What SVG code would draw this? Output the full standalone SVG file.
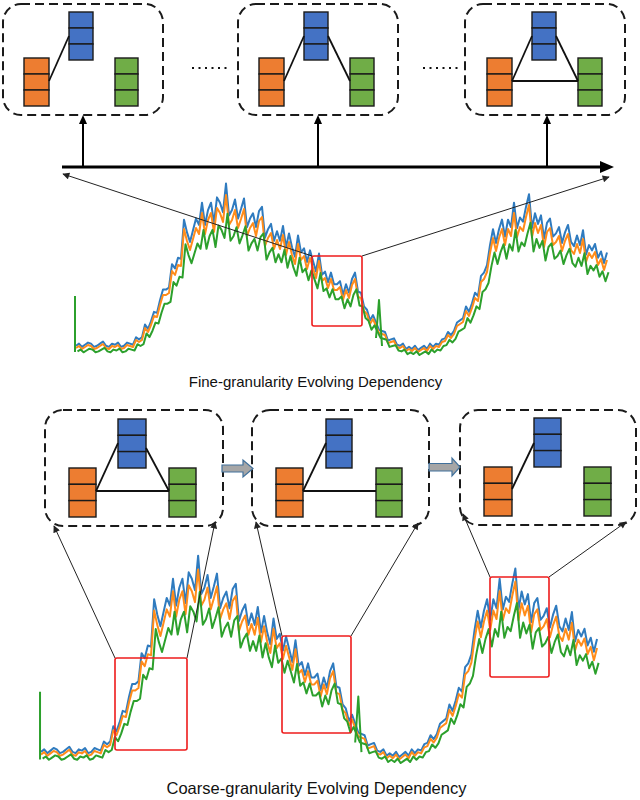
<svg xmlns="http://www.w3.org/2000/svg" width="640" height="800" viewBox="0 0 640 800">
<style>
.dbox{fill:none;stroke:#1a1a1a;stroke-width:2;stroke-dasharray:9 5}
.b{fill:#4472C4;stroke:#1a1a1a;stroke-width:1.4}
.o{fill:#ED7D31;stroke:#1a1a1a;stroke-width:1.4}
.g{fill:#70AD47;stroke:#1a1a1a;stroke-width:1.4}
.edge{stroke:#111;stroke-width:1.8;fill:none}
.thin{stroke:#222;stroke-width:1;fill:none;marker-end:url(#ah)}
.red{fill:none;stroke:#ee1c1c;stroke-width:1.6}
.lbl{font-family:"Liberation Sans",Arial,sans-serif;fill:#111;text-anchor:middle}
.s{fill:none;stroke-width:2;stroke-linejoin:round}
.sb{stroke:#2f7bbf}
.so{stroke:#ff8c1a}
.sg{stroke:#2ca02c}
.blk{fill:#a6a6a6;stroke:#41719C;stroke-width:1.2}
.thick{stroke:#000;fill:none}
</style>
<defs>
<marker id="ah" viewBox="0 0 10 10" refX="9" refY="5" markerWidth="9" markerHeight="7" markerUnits="userSpaceOnUse" orient="auto"><path d="M0,0 L10,5 L0,10 z" fill="#222"/></marker>
<polyline id="ts" vector-effect="non-scaling-stroke" points="76,348 79,346 82,349 85,347 88,345 91,346 94,349 97,348 100,346 103,344 106,348 109,349 112,346 115,347 118,345 121,349 124,348 127,345 130,346 133,347 136,340 139,342 142,340 145,328 148,332 151,325 154,316 157,317 160,305 163,295 166,295 169,293 172,271 175,275 178,265 181,266 184,229 187,241 190,250 193,239 196,228 199,234 202,213 205,234 208,220 211,213 214,232 217,208 220,213 223,222 226,195 229,225 232,220 235,210 238,228 241,219 244,209 247,236 250,228 253,223 256,236 259,221 262,217 265,246 268,238 271,233 274,249 277,240 280,249 283,235 286,255 289,242 292,255 295,264 298,244 301,260 304,256 307,269 310,258 313,268 316,278 319,261 322,281 325,278 328,288 331,279 334,290 337,290 340,287 343,300 346,290 349,298 352,285 355,279 358,297 361,298 364,311 367,314 370,324 373,319 376,326 379,333 382,334 385,335 388,343 391,342 394,341 397,347 400,348 403,346 406,351 409,349 412,351 415,348 418,352 421,350 424,348 427,351 430,346 433,349 436,346 439,347 442,342 445,341 448,335 451,338 454,334 457,326 460,324 463,322 466,311 469,316 472,308 475,298 478,301 481,282 484,279 487,272 490,253 493,238 496,251 499,238 502,229 505,245 508,229 511,236 514,213 517,237 520,227 523,231 526,217 529,205 532,237 535,223 538,233 541,225 544,247 547,232 550,228 553,245 556,242 559,236 562,251 565,241 568,234 571,250 574,254 577,244 580,253 583,239 586,262 589,253 592,258 595,252 598,265 601,259 604,270 607,260"/>
<path id="gsp" vector-effect="non-scaling-stroke" d="M75,296 L75,352 M376,338 L379,300 L382,346"/>
</defs>

<g id="chart-top">
<use href="#ts" class="s sb" transform="translate(0,-23.1) scale(1,1.06)"/>
<use href="#ts" class="s so"/>
<use href="#ts" class="s sg" transform="translate(1.5,38.2) scale(1,0.9)"/>
<use href="#gsp" class="s sg"/>
<rect class="red" x="312" y="256" width="50" height="70" rx="2"/>
</g>

<g id="chart-bottom">
<g transform="translate(-38.5,333.5) scale(1.047,1.21)">
<use href="#ts" class="s sb" transform="translate(0,-23.1) scale(1,1.06)"/>
<use href="#ts" class="s so"/>
<use href="#ts" class="s sg" transform="translate(1.5,38.2) scale(1,0.9)"/>
<use href="#gsp" class="s sg"/>
</g>
<rect class="red" x="115" y="658" width="72" height="92" rx="2"/>
<rect class="red" x="282" y="636" width="69" height="97" rx="2"/>
<rect class="red" x="490" y="577" width="59" height="100" rx="2"/>
</g>

<g id="frame-top-1">
<rect class="dbox" x="3" y="4" width="160" height="111" rx="18"/>
<g id="t1-blue"><rect class="b" x="69" y="12" width="24" height="16"/><rect class="b" x="69" y="28" width="24" height="16"/><rect class="b" x="69" y="44" width="24" height="16"/></g>
<g id="t1-orange"><rect class="o" x="24" y="58" width="25" height="16"/><rect class="o" x="24" y="74" width="25" height="16"/><rect class="o" x="24" y="90" width="25" height="16"/></g>
<g id="t1-green"><rect class="g" x="115" y="58" width="23" height="16"/><rect class="g" x="115" y="74" width="23" height="16"/><rect class="g" x="115" y="90" width="23" height="16"/></g>
</g>
<g id="frame-top-2">
<rect class="dbox" x="238" y="4" width="160" height="111" rx="18"/>
<g id="t2-blue"><rect class="b" x="304" y="12" width="24" height="16"/><rect class="b" x="304" y="28" width="24" height="16"/><rect class="b" x="304" y="44" width="24" height="16"/></g>
<g id="t2-orange"><rect class="o" x="259" y="58" width="25" height="16"/><rect class="o" x="259" y="74" width="25" height="16"/><rect class="o" x="259" y="90" width="25" height="16"/></g>
<g id="t2-green"><rect class="g" x="350" y="58" width="24" height="16"/><rect class="g" x="350" y="74" width="24" height="16"/><rect class="g" x="350" y="90" width="24" height="16"/></g>
</g>
<g id="frame-top-3">
<rect class="dbox" x="465" y="4" width="160" height="111" rx="18"/>
<g id="t3-blue"><rect class="b" x="532" y="12" width="24" height="16"/><rect class="b" x="532" y="28" width="24" height="16"/><rect class="b" x="532" y="44" width="24" height="16"/></g>
<g id="t3-orange"><rect class="o" x="487" y="58" width="25" height="16"/><rect class="o" x="487" y="74" width="25" height="16"/><rect class="o" x="487" y="90" width="25" height="16"/></g>
<g id="t3-green"><rect class="g" x="578" y="58" width="24" height="16"/><rect class="g" x="578" y="74" width="24" height="16"/><rect class="g" x="578" y="90" width="24" height="16"/></g>
</g>

<g id="frame-bot-A">
<rect class="dbox" x="45" y="410" width="178" height="116" rx="18"/>
<g id="bA-blue"><rect class="b" x="118" y="419" width="28" height="16.3"/><rect class="b" x="118" y="435.3" width="28" height="16.3"/><rect class="b" x="118" y="451.6" width="28" height="16.4"/></g>
<g id="bA-orange"><rect class="o" x="69" y="468" width="27" height="16.3"/><rect class="o" x="69" y="484.3" width="27" height="16.3"/><rect class="o" x="69" y="500.6" width="27" height="16.4"/></g>
<g id="bA-green"><rect class="g" x="169" y="468" width="27" height="16.3"/><rect class="g" x="169" y="484.3" width="27" height="16.3"/><rect class="g" x="169" y="500.6" width="27" height="16.4"/></g>
</g>
<g id="frame-bot-B">
<rect class="dbox" x="252" y="410" width="177" height="116" rx="18"/>
<g id="bB-blue"><rect class="b" x="326" y="419" width="26" height="16.3"/><rect class="b" x="326" y="435.3" width="26" height="16.3"/><rect class="b" x="326" y="451.6" width="26" height="16.4"/></g>
<g id="bB-orange"><rect class="o" x="276" y="468" width="27" height="16.3"/><rect class="o" x="276" y="484.3" width="27" height="16.3"/><rect class="o" x="276" y="500.6" width="27" height="16.4"/></g>
<g id="bB-green"><rect class="g" x="376" y="468" width="26" height="16.3"/><rect class="g" x="376" y="484.3" width="26" height="16.3"/><rect class="g" x="376" y="500.6" width="26" height="16.4"/></g>
</g>
<g id="frame-bot-C">
<rect class="dbox" x="460" y="410" width="176" height="115" rx="18"/>
<g id="bC-blue"><rect class="b" x="534" y="418" width="27" height="16.3"/><rect class="b" x="534" y="434.3" width="27" height="16.3"/><rect class="b" x="534" y="450.6" width="27" height="16.4"/></g>
<g id="bC-orange"><rect class="o" x="484" y="467" width="28" height="16.3"/><rect class="o" x="484" y="483.3" width="28" height="16.3"/><rect class="o" x="484" y="499.6" width="28" height="16.4"/></g>
<g id="bC-green"><rect class="g" x="584" y="467" width="27" height="16.3"/><rect class="g" x="584" y="483.3" width="27" height="16.3"/><rect class="g" x="584" y="499.6" width="27" height="16.4"/></g>
</g>

<g id="connectors">
<line class="edge" x1="49" y1="81" x2="69" y2="36"/>
<line class="edge" x1="284" y1="81" x2="304" y2="36"/>
<line class="edge" x1="328" y1="36" x2="350" y2="81"/>
<line class="edge" x1="512" y1="81" x2="532" y2="36"/>
<line class="edge" x1="556" y1="36" x2="578" y2="81"/>
<line class="edge" x1="512" y1="81" x2="578" y2="81"/>
<line class="edge" x1="96" y1="491" x2="118" y2="443"/>
<line class="edge" x1="146" y1="448" x2="169" y2="491"/>
<line class="edge" x1="96" y1="491" x2="169" y2="491"/>
<line class="edge" x1="303" y1="491" x2="326" y2="443"/>
<line class="edge" x1="303" y1="491" x2="376" y2="491"/>
<line class="edge" x1="512" y1="489" x2="534" y2="443"/>
<line x1="192" y1="68" x2="230" y2="68" stroke="#111" stroke-width="2" stroke-dasharray="2 4.5"/>
<line x1="423" y1="68" x2="461" y2="68" stroke="#111" stroke-width="2" stroke-dasharray="2 4.5"/>
<line class="thick" x1="62" y1="167" x2="602" y2="167" stroke-width="3.2"/>
<polygon points="600,161 614,167 600,173" fill="#000"/>
<line class="thick" x1="83" y1="167" x2="83" y2="123" stroke-width="2"/>
<polygon points="79,124 83,115 87,124" fill="#000"/>
<line class="thick" x1="318" y1="167" x2="318" y2="123" stroke-width="2"/>
<polygon points="314,124 318,115 322,124" fill="#000"/>
<line class="thick" x1="547" y1="167" x2="547" y2="123" stroke-width="2"/>
<polygon points="543,124 547,115 551,124" fill="#000"/>
<line class="thin" x1="312" y1="256" x2="63" y2="174"/>
<line class="thin" x1="362" y1="256" x2="609" y2="177"/>
<line class="thin" x1="115" y1="658" x2="54" y2="526"/>
<line class="thin" x1="187" y1="658" x2="215" y2="522"/>
<line class="thin" x1="282" y1="636" x2="256" y2="522"/>
<line class="thin" x1="351" y1="636" x2="418" y2="523"/>
<line class="thin" x1="490" y1="577" x2="463" y2="514"/>
<line class="thin" x1="549" y1="577" x2="626" y2="522"/>
<path class="blk" d="M222,465 L243,465 L243,460 L253,468.5 L243,477 L243,472 L222,472 Z"/>
<path class="blk" d="M429,463.5 L452,463.5 L452,458 L460,467 L452,476 L452,471 L429,471 Z"/>
</g>

<text class="lbl" x="315.5" y="387" font-size="15">Fine-granularity Evolving Dependency</text>
<text class="lbl" x="316.5" y="794" font-size="16.5">Coarse-granularity Evolving Dependency</text>
</svg>
